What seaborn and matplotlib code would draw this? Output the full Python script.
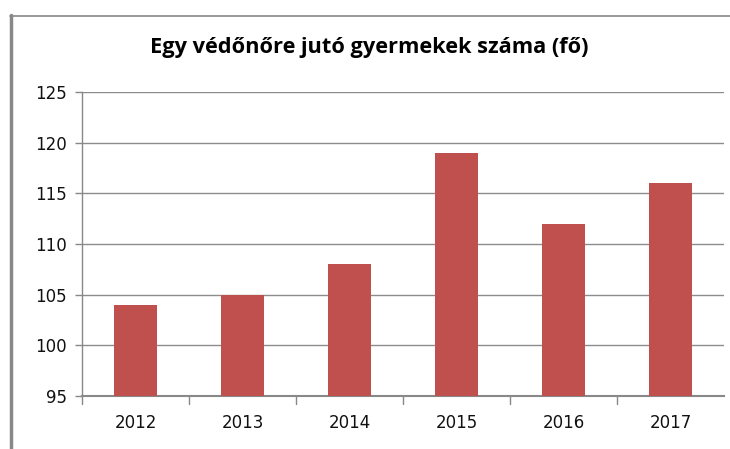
import matplotlib
matplotlib.use("Agg")
import matplotlib.pyplot as plt
import seaborn as sns
import pandas as pd
from matplotlib.lines import Line2D

years = ["2012", "2013", "2014", "2015", "2016", "2017"]
values = [104, 105, 108, 119, 112, 116]
yticks = [95, 100, 105, 110, 115, 120, 125]
title = "Egy védőnőre jutó gyermekek száma (fő)"

sns.set_theme(style="white")
plt.rcParams['font.family'] = ['DejaVu Sans']

df = pd.DataFrame({"year": years, "value": values})

fig = plt.figure(figsize=(7.3, 4.49), dpi=100)
ax = fig.add_axes([82/730, 1-396/449, (724-82)/730, (396-92)/449])

sns.barplot(data=df, x="year", y="value", color="#C0504D", width=0.4,
            saturation=1, ax=ax, zorder=3)
for p in ax.patches:
    p.set_edgecolor("none")

ax.set_ylim(95, 125)
ax.set_xlim(-0.5, len(years) - 0.5)
ax.set_yticks(yticks)
ax.set_yticklabels([str(t) for t in yticks], fontsize=12, color="#111111")
ax.set_xlabel("")
ax.set_ylabel("")
ax.tick_params(axis="x", labelsize=12, colors="#111111", length=0, pad=13)
ax.tick_params(axis="y", length=5, width=1, color="#888888", pad=6, left=True)

for t in yticks[1:]:
    ax.axhline(t, color="#8c8c8c", lw=1, zorder=1)

# category boundary ticks on x-axis
for b in [i + 0.5 for i in range(len(years) - 1)] + [-0.5]:
    ax.plot([b, b], [0, -0.025], transform=ax.get_xaxis_transform(),
            color="#888888", lw=1, clip_on=False)

for s in ["top", "right"]:
    ax.spines[s].set_visible(False)
ax.spines["left"].set_color("#888888")
ax.spines["bottom"].set_color("#888888")
ax.spines["left"].set_linewidth(1)
ax.spines["bottom"].set_linewidth(1.5)

fig.text(369/730, 1-47.5/449, title, ha="center", va="center",
         fontsize=15.7, fontweight="bold", family="Open Sans", color="#000000")

# outer frame
fig.add_artist(Line2D([10.5/730, 10.5/730], [0, 1-15/449], color="#888888", lw=2.5))
fig.add_artist(Line2D([10/730, 1], [1-15.5/449, 1-15.5/449], color="#888888", lw=1.2))

fig.savefig("out.png", dpi=100, facecolor="white")
